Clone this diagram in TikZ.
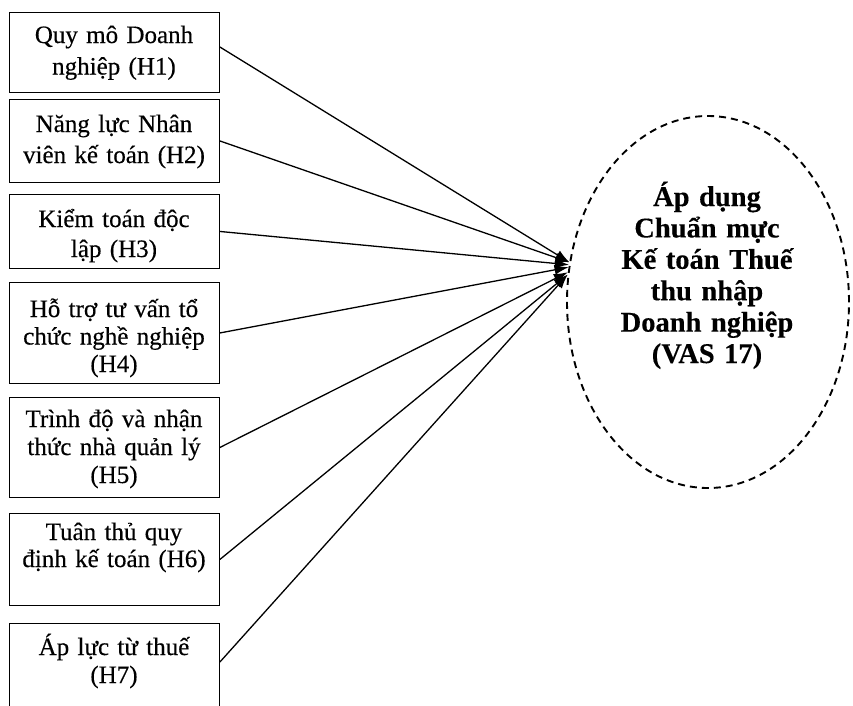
\documentclass[tikz,border=0pt]{standalone}
\usepackage{fontspec}
\setmainfont{Liberation Serif}
\newfontfamily\scanfont[FakeBold=0.35]{Liberation Serif}
\newfontfamily\scanbold[FakeBold=0.3]{Liberation Serif Bold}
\usetikzlibrary{shapes.geometric,arrows.meta,calc}
\begin{document}
\begin{tikzpicture}[x=1pt,y=-1pt,
  box/.style={draw=black,line width=0.9pt,minimum width=210pt,inner sep=0pt,anchor=north west},
  lbl/.style={font=\scanfont\fontsize{25}{#1}\selectfont,text width=208pt,align=center,anchor=base,inner sep=0pt},
  conn/.style={draw=black,line width=1.3pt,-{Latex[length=14pt,width=10pt]}},
  vasell/.style={ellipse,draw=black,line width=1.9pt,dash pattern=on 7pt off 5pt,minimum width=282pt,minimum height=372pt,inner sep=0pt},
  vastxt/.style={font=\scanbold\fontsize{28.5}{31.4}\selectfont,text width=260pt,align=center,anchor=base,inner sep=0pt}]
\clip (0,0) rectangle (853,705);
\fill[white] (0,0) rectangle (853,705);
% boxes
\node[box,minimum height=80pt]  (b1) at (9,12)  {};
\node[box,minimum height=83pt]  (b2) at (9,99)  {};
\node[box,minimum height=74pt]  (b3) at (9,194) {};
\node[box,minimum height=101pt] (b4) at (9,282) {};
\node[box,minimum height=100pt] (b5) at (9,397) {};
\node[box,minimum height=92pt]  (b6) at (9,513) {};
\node[box,minimum height=130pt] (b7) at (9,623) {};
% labels
\node[lbl=31.5] (t1) at (114,43)  {Quy mô Doanh\\nghiệp (H1)};
\node[lbl=31]   (t2) at (114,132) {Năng lực Nhân\\viên kế toán (H2)};
\node[lbl=30]   (t3) at (114,227) {Kiểm toán độc\\lập (H3)};
\node[lbl=27.5] (t4) at (114,317) {Hỗ trợ tư vấn tổ\\chức nghề nghiệp\\(H4)};
\node[lbl=28]   (t5) at (114,427) {Trình độ và nhận\\thức nhà quản lý\\(H5)};
\node[lbl=27]   (t6) at (114,540) {Tuân thủ quy\\định kế toán (H6)};
\node[lbl=28]   (t7) at (114,655) {Áp lực từ thuế\\(H7)};
% ellipse
\node[vasell] (vas) at (708,302) {};
\node[vastxt] (vt) at (707,206) {Áp dụng\\Chuẩn mực\\Kế toán Thuế\\thu nhập\\Doanh nghiệp\\(VAS 17)};
% connector start points
\coordinate (s1) at ($(b1.north east)+(0,35)$);
\coordinate (s7) at ($(b7.north east)+(0,39)$);
\draw[conn] (s1) -- (vas.164);
\draw[conn] (b2.east) -- (vas.164);
\draw[conn] (b3.east) -- (vas.165);
\draw[conn] (b4.east) -- (vas.166);
\draw[conn] (b5.east) -- (vas.168);
\draw[conn] (b6.east) -- (vas.169);
\draw[conn] (s7) -- (vas.169);
\end{tikzpicture}
\end{document}
